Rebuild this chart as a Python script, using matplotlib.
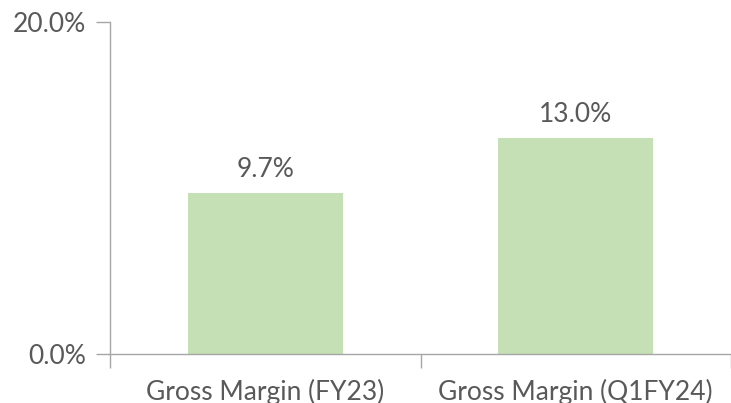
import matplotlib.pyplot as plt
import numpy as np

categories = ["Gross Margin (FY23)", "Gross Margin (Q1FY24)"]
values = [9.7, 13.0]

plt.rcParams['font.family'] = ['Lato', 'DejaVu Sans']
text_col = '#595959'
axis_col = '#a6a6a6'

fig = plt.figure(figsize=(7.31, 4.03), dpi=100)
ax = fig.add_axes([110 / 731, 49 / 403, 621 / 731, 332 / 403])

x = np.arange(len(categories)) + 0.5
bars = ax.bar(x, values, width=0.5, color='#c5e0b4')
for xi, v in zip(x, values):
    ax.annotate(f"{v:.1f}%", (xi, v), xytext=(0, 8), textcoords='offset points',
                ha='center', va='bottom', fontsize=19, color=text_col)

ax.set_xlim(0, len(categories))
ax.set_ylim(0, 20)
ax.set_yticks([0, 20])
ax.set_yticklabels(["0.0%", "20.0%"])
ax.set_xticks(x)
ax.set_xticklabels(categories)
ax.set_xticks(np.arange(len(categories) + 1), minor=True)
ax.tick_params(axis='x', which='major', length=0, pad=18, labelsize=19, labelcolor=text_col)
ax.tick_params(axis='x', which='minor', length=10, width=1, color=axis_col)
ax.tick_params(axis='y', length=10, width=1, color=axis_col, pad=7, labelsize=19, labelcolor=text_col)

for s in ['top', 'right']:
    ax.spines[s].set_visible(False)
for s in ['left', 'bottom']:
    ax.spines[s].set_color(axis_col)
    ax.spines[s].set_linewidth(1)

fig.savefig("out.png", dpi=100)
